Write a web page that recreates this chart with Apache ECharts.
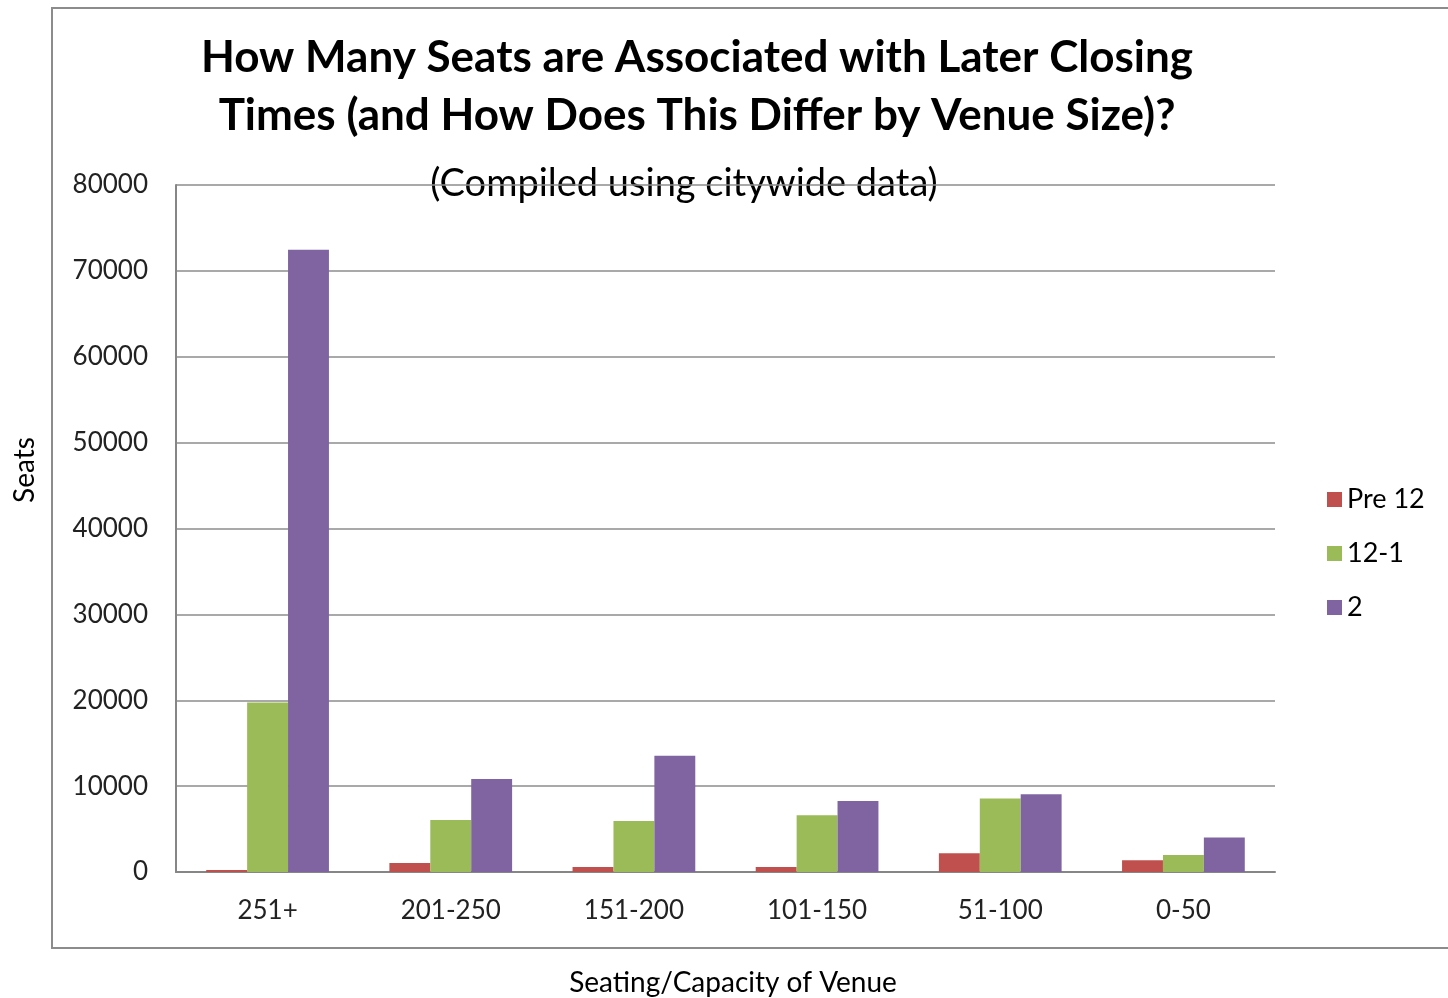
<!DOCTYPE html>
<html>
<head>
<meta charset="utf-8">
<script src="https://cdn.jsdelivr.net/npm/echarts@6/dist/echarts.min.js"></script>
<style>
  html, body { margin: 0; padding: 0; background: #fff; }
  #chart { width: 1448px; height: 998px; }
</style>
</head>
<body>
<div id="chart"></div>
<script>
var categories = ['251+', '201-250', '151-200', '101-150', '51-100', '0-50'];
var pre12 = [230, 1050, 580, 580, 2180, 1360];
var twelveToOne = [19750, 6060, 5940, 6600, 8550, 1980];
var two = [72450, 10840, 13550, 8270, 9060, 4010];
var yTicks = [0, 10000, 20000, 30000, 40000, 50000, 60000, 70000, 80000];

var font = 'Lato, "Open Sans", sans-serif';
var chart = echarts.init(document.getElementById('chart'));

var option = {
    animation: false,
    textStyle: { fontFamily: font },
    graphic: [
        {
            type: 'rect',
            shape: { x: 52, y: 8, width: 1420, height: 940 },
            style: { fill: 'none', stroke: '#8c8c8c', lineWidth: 2 },
            silent: true
        },
        {
            type: 'text', x: 697, y: 58,
            style: {
                text: 'How Many Seats are Associated with Later Closing',
                font: 'bold 44px ' + font, fill: '#000',
                textAlign: 'center', textVerticalAlign: 'middle'
            }
        },
        {
            type: 'text', x: 697, y: 116,
            style: {
                text: 'Times (and How Does This Differ by Venue Size)?',
                font: 'bold 44px ' + font, fill: '#000',
                textAlign: 'center', textVerticalAlign: 'middle'
            }
        },
        {
            type: 'text', x: 684, y: 184,
            style: {
                text: '(Compiled using citywide data)',
                font: '38px ' + font, fill: '#000',
                textAlign: 'center', textVerticalAlign: 'middle'
            }
        },
        {
            type: 'text', x: 25, y: 470, rotation: Math.PI / 2,
            style: {
                text: 'Seats',
                font: '28px ' + font, fill: '#000',
                textAlign: 'center', textVerticalAlign: 'middle'
            }
        },
        {
            type: 'text', x: 733, y: 983,
            style: {
                text: 'Seating/Capacity of Venue',
                font: '28px ' + font, fill: '#000',
                textAlign: 'center', textVerticalAlign: 'middle'
            }
        }
    ],
    legend: {
        orient: 'vertical',
        left: 1322,
        top: 481,
        itemWidth: 15,
        itemHeight: 15,
        itemGap: 27,
        icon: 'rect',
        textStyle: { fontSize: 27, color: '#000', fontFamily: font },
        data: ['Pre 12', '12-1', '2']
    },
    grid: {
        left: 176,
        right: 173,
        top: 185,
        bottom: 126,
        containLabel: false
    },
    xAxis: {
        type: 'category',
        data: categories,
        axisLine: { lineStyle: { color: '#868686', width: 2 } },
        axisTick: { show: false },
        axisLabel: { fontSize: 26, color: '#222', margin: 26 }
    },
    yAxis: {
        type: 'value',
        min: 0,
        max: 80000,
        interval: 10000,
        axisLine: { show: true, lineStyle: { color: '#868686', width: 2 } },
        axisTick: { show: false },
        axisLabel: {
            fontSize: 26,
            color: '#222',
            margin: 28,
            formatter: function (v) { return yTicks.indexOf(v) >= 0 ? String(v) : ''; }
        },
        splitLine: { lineStyle: { color: '#8c8c8c', width: 1.5 } }
    },
    series: [
        {
            name: 'Pre 12', type: 'bar', data: pre12,
            barGap: '0%', barCategoryGap: '33%',
            itemStyle: { color: '#C0504D' }
        },
        {
            name: '12-1', type: 'bar', data: twelveToOne,
            barGap: '0%', barCategoryGap: '33%',
            itemStyle: { color: '#9BBB59' }
        },
        {
            name: '2', type: 'bar', data: two,
            barGap: '0%', barCategoryGap: '33%',
            itemStyle: { color: '#8064A2' }
        }
    ]
};
chart.setOption(option);
</script>
</body>
</html>
